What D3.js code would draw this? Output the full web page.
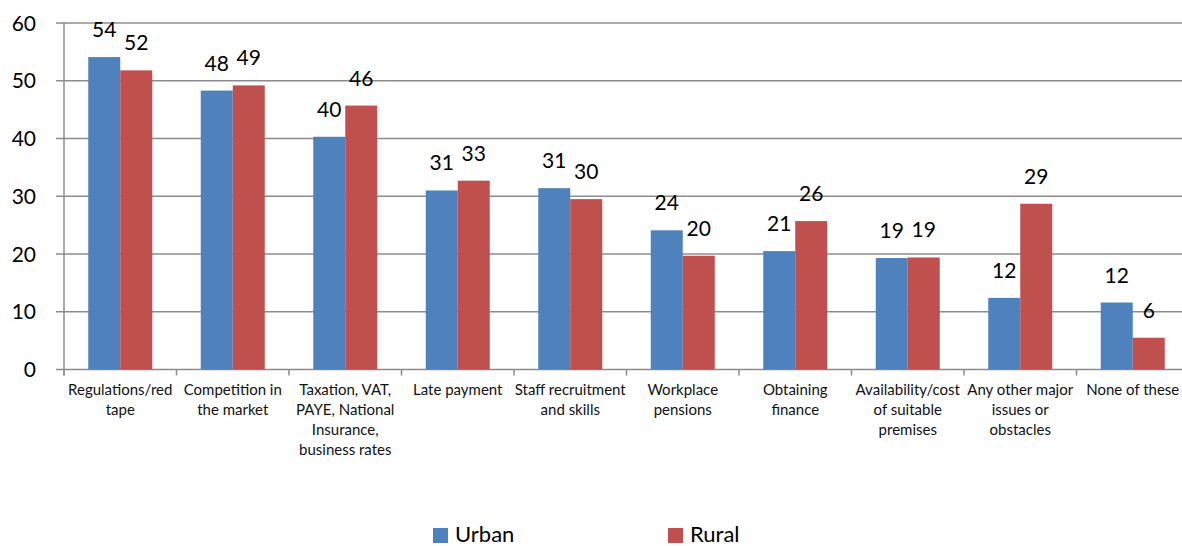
<!DOCTYPE html>
<html>
<head>
<meta charset="utf-8">
<script src="https://cdn.jsdelivr.net/npm/d3@7"></script>
<style>
  body { margin: 0; background: #fff; }
  svg { display: block; font-family: Lato, "Noto Sans", sans-serif; }
</style>
</head>
<body>
<div class="chart"></div>
<script>
// category labels, already broken into lines like the original
var catLines = [
    ["Regulations/red", "tape"],
    ["Competition in", "the market"],
    ["Taxation, VAT,", "PAYE, National", "Insurance,", "business rates"],
    ["Late payment"],
    ["Staff recruitment", "and skills"],
    ["Workplace", "pensions"],
    ["Obtaining", "finance"],
    ["Availability/cost", "of suitable", "premises"],
    ["Any other major", "issues or", "obstacles"],
    ["None of these"]
];
var categories = catLines.map(d => d.join(" "));

var seriesNames = ["Urban", "Rural"];
var seriesColors = ["#4F81BD", "#C0504D"];

// bar heights (labels show the rounded value)
var urban = [54.1, 48.3, 40.3, 31.0, 31.4, 24.1, 20.5, 19.3, 12.4, 11.6];
var rural = [51.8, 49.2, 45.7, 32.7, 29.5, 19.7, 25.7, 19.4, 28.7, 5.5];

var yTicks = [0, 10, 20, 30, 40, 50, 60];

var svgWidth = 1182, svgHeight = 546;
var margin = {top: 23, left: 64};
var plotBottom = 369.5;
var plotRight = 64 + 112.5 * categories.length;

var svg = d3.select(".chart").append("svg")
    .attr("width", svgWidth)
    .attr("height", svgHeight);

var x0 = d3.scaleBand()
    .domain(categories)
    .range([margin.left, plotRight])
    .padding(0);

var x1 = d3.scaleBand()
    .domain(seriesNames)
    .range([x0.bandwidth() / 2 - 32, x0.bandwidth() / 2 + 32]);

var y = d3.scaleLinear()
    .domain([0, 60])
    .range([plotBottom, margin.top]);

// gridlines
svg.append("g")
    .selectAll("line")
    .data(yTicks)
    .enter()
    .append("line")
    .attr("x1", margin.left - 8)
    .attr("x2", plotRight)
    .attr("y1", d => y(d))
    .attr("y2", d => y(d))
    .attr("stroke", "#8c8c8c")
    .attr("stroke-width", 1.5);

// y axis line
svg.append("line")
    .attr("x1", margin.left).attr("x2", margin.left)
    .attr("y1", y(60)).attr("y2", plotBottom + 6)
    .attr("stroke", "#8c8c8c")
    .attr("stroke-width", 1.5);

// y tick labels
svg.append("g")
    .selectAll("text")
    .data(yTicks)
    .enter()
    .append("text")
    .attr("x", 36)
    .attr("y", d => y(d))
    .attr("dy", "0.36em")
    .attr("text-anchor", "end")
    .style("font-size", "21px")
    .attr("fill", "#000")
    .text(d => d);

// category tick marks
var catEdges = categories.map(c => x0(c)).concat([plotRight]);
svg.append("g")
    .selectAll("line")
    .data(catEdges)
    .enter()
    .append("line")
    .attr("x1", d => d).attr("x2", d => d)
    .attr("y1", plotBottom).attr("y2", plotBottom + 6)
    .attr("stroke", "#8c8c8c")
    .attr("stroke-width", 1.5);

// bars
var rows = categories.map((c, i) => ({cat: c, vals: [urban[i], rural[i]]}));

var groups = svg.append("g")
    .selectAll("g")
    .data(rows)
    .enter()
    .append("g")
    .attr("transform", d => `translate(${x0(d.cat)},0)`);

groups.selectAll("rect")
    .data(d => d.vals.map((v, j) => ({name: seriesNames[j], value: v, j: j})))
    .enter()
    .append("rect")
    .attr("x", d => x1(d.name))
    .attr("y", d => y(d.value))
    .attr("width", x1.bandwidth())
    .attr("height", d => y(0) - y(d.value))
    .attr("fill", d => seriesColors[d.j]);

// data labels
groups.selectAll("text")
    .data(d => d.vals.map((v, j) => ({name: seriesNames[j], value: v})))
    .enter()
    .append("text")
    .attr("x", d => x1(d.name) + x1.bandwidth() / 2)
    .attr("y", d => y(d.value) - 20)
    .attr("text-anchor", "middle")
    .style("font-size", "21px")
    .attr("fill", "#000")
    .text(d => Math.round(d.value));

// category labels
var catLabels = svg.append("g")
    .selectAll("text")
    .data(catLines)
    .enter()
    .append("text")
    .attr("x", (d, i) => x0(categories[i]) + x0.bandwidth() / 2)
    .attr("y", 395)
    .attr("text-anchor", "middle")
    .style("font-size", "15px")
    .attr("fill", "#111");

catLabels.selectAll("tspan")
    .data(d => d)
    .enter()
    .append("tspan")
    .attr("x", function() { return d3.select(this.parentNode).attr("x"); })
    .attr("dy", (d, i) => i === 0 ? 0 : 20)
    .text(d => d);

// legend
var legendX = [433, 668];
var legend = svg.append("g")
    .selectAll("g")
    .data(seriesNames)
    .enter()
    .append("g")
    .attr("transform", (d, i) => `translate(${legendX[i]},528)`);

legend.append("rect")
    .attr("width", 15)
    .attr("height", 15)
    .attr("fill", (d, i) => seriesColors[i]);

legend.append("text")
    .attr("x", 22)
    .attr("y", 14)
    .style("font-size", "22px")
    .attr("fill", "#000")
    .text(d => d);
</script>
</body>
</html>
